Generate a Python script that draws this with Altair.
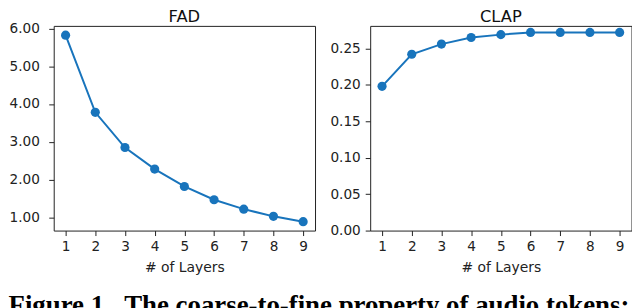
import altair as alt
import pandas as pd

layers = [1, 2, 3, 4, 5, 6, 7, 8, 9]
fad = [5.82, 3.78, 2.85, 2.28, 1.82, 1.47, 1.22, 1.03, 0.89]
clap = [0.198, 0.242, 0.256, 0.265, 0.269, 0.272, 0.272, 0.272, 0.272]
fad_ticks = [1, 2, 3, 4, 5, 6]
clap_ticks = [0.0, 0.05, 0.10, 0.15, 0.20, 0.25]
caption = "Figure 1.\u00a0\u00a0The coarse-to-fine property of audio tokens:"

df = pd.DataFrame({"layer": layers, "FAD": fad, "CLAP": clap})

COLOR = "#1874bc"
FONT = "DejaVu Sans"
W, H = 263, 206


def panel(field, domain, ticks, label_pad):
    x = alt.X(
        "layer:Q",
        scale=alt.Scale(domain=[0.6, 9.4], nice=False, zero=False),
        axis=alt.Axis(values=layers, format="d", title="# of Layers", grid=False,
                      tickSize=5, labelPadding=4.5, titlePadding=7, domain=False),
    )
    y = alt.Y(
        f"{field}:Q",
        scale=alt.Scale(domain=domain, nice=False, zero=False),
        axis=alt.Axis(values=ticks, format=".2f", title=None, grid=False,
                      tickSize=5, labelPadding=label_pad, domain=False),
    )
    line = alt.Chart(df).mark_line(color=COLOR, strokeWidth=2).encode(x=x, y=y)
    pts = alt.Chart(df).mark_circle(color=COLOR, size=85, opacity=1).encode(x=x, y=y)
    ttl = alt.Chart(pd.DataFrame({"t": [field]})).mark_text(
        font=FONT, fontSize=16.4, color="#111", baseline="alphabetic", align="center"
    ).encode(text="t:N", x=alt.value(W / 2), y=alt.value(-3.5))
    return (line + pts + ttl).properties(width=W, height=H)


left = panel("FAD", [0.654, 6.066], fad_ticks, 9.5)
right = panel("CLAP", [0.0, 0.281], clap_ticks, 5)

chart = alt.hconcat(left, right, spacing=13.5).properties(
    padding=0,
    title=alt.TitleParams(caption, orient="bottom", anchor="start", font="Liberation Serif",
                          fontWeight="bold", fontSize=27, color="#000",
                          baseline="alphabetic", offset=39),
).configure_view(
    stroke="#222", strokeWidth=1
).configure_axis(
    labelFont=FONT, labelFontSize=13.7, labelColor="#222",
    titleFont=FONT, titleFontSize=14, titleColor="#222", titleFontWeight="normal",
    tickColor="#222", tickWidth=1,
)

chart.save("out.html", embed_options={"renderer": "svg", "actions": False})
